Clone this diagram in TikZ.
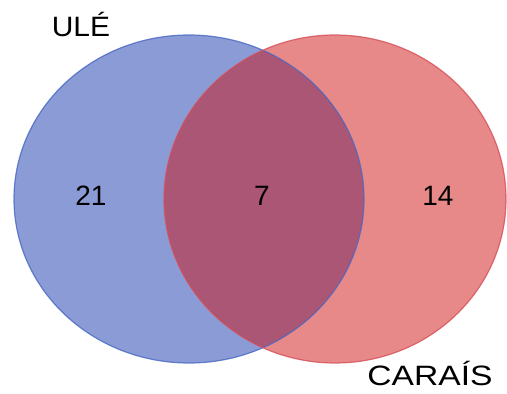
\documentclass[tikz,border=0pt]{standalone}
\usepackage{fontspec}
\setmainfont{Liberation Sans}
\definecolor{bluefill}{RGB}{138,155,214}
\definecolor{redfill}{RGB}{232,137,137}
\definecolor{overfill}{RGB}{170,86,116}
\definecolor{blueline}{RGB}{72,104,196}
\definecolor{redline}{RGB}{214,78,88}
\tikzset{
  lbl/.style={font=\fontsize{28}{30}\selectfont, text=black, inner sep=0pt},
  num/.style={font=\fontsize{28}{30}\selectfont, text=black, inner sep=0pt}
}
\begin{document}
\begin{tikzpicture}[x=1pt,y=1pt]
\useasboundingbox (0,0) rectangle (507,394);
\fill[white] (0,0) rectangle (507,394);
\begin{scope}
\clip (0,0) rectangle (507,394);
\fill[bluefill] (189,195) ellipse [x radius=175, y radius=164];
\fill[redfill] (335,195) ellipse [x radius=171, y radius=164];
\begin{scope}
\clip (189,195) ellipse [x radius=175, y radius=164];
\fill[overfill] (335,195) ellipse [x radius=171, y radius=164];
\end{scope}
\draw[blueline, line width=1.2pt, draw opacity=0.8] (189,195) ellipse [x radius=175, y radius=164];
\draw[redline, line width=1.2pt, draw opacity=0.8] (335,195) ellipse [x radius=171, y radius=164];
\end{scope}
\node[lbl, anchor=base] (ule) at (81,357) {\scalebox{1.07}[1]{ULÉ}};
\node[num] (n21) at (91,198) {21};
\node[num] (n7) at (262,198) {7};
\node[num] (n14) at (438,198) {14};
\node[lbl, anchor=base] (carais) at (430,8) {\scalebox{1.2}[1]{CARAÍS}};
\end{tikzpicture}
\end{document}
